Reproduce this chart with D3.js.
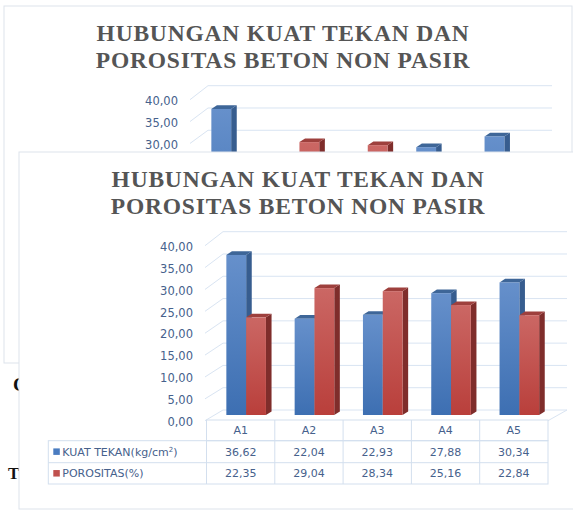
<!DOCTYPE html>
<html>
<head>
<meta charset="utf-8">
<script src="https://cdn.jsdelivr.net/npm/d3@7"></script>
<style>
  body { margin: 0; background: #fff; }
  svg { display: block; }
</style>
</head>
<body>
<script>
// chart data
const categories = ["A1", "A2", "A3", "A4", "A5"];
const kuatTekan = [36.62, 22.04, 22.93, 27.88, 30.34];
const porositas = [22.35, 29.04, 28.34, 25.16, 22.84];
const seriesNames = ["KUAT TEKAN(kg/cm", "POROSITAS(%)"];
const yTicks = [0, 5, 10, 15, 20, 25, 30, 35, 40];
const titleLines = ["HUBUNGAN KUAT TEKAN DAN", "POROSITAS BETON NON PASIR"];

const fmt = v => d3.format(".2f")(v).replace(".", ",");

const svg = d3.select("body").append("svg")
    .attr("width", 573)
    .attr("height", 511);

// gradients for the 3d bars
const defs = svg.append("defs");
function addGrad(id, top, bottom) {
    const gr = defs.append("linearGradient").attr("id", id)
        .attr("x1", 0).attr("y1", 0).attr("x2", 0).attr("y2", 1);
    gr.append("stop").attr("offset", "0%").attr("stop-color", top);
    gr.append("stop").attr("offset", "100%").attr("stop-color", bottom);
}
addGrad("gBlue", "#6690cb", "#3d6fb2");
addGrad("gRed", "#cb6764", "#b93f3b");

const colors = [
    {front: "url(#gBlue)", side: "#375d8f", top: "#3e6698", key: "#4a7cc0"},
    {front: "url(#gRed)", side: "#7f2d2b", top: "#9e403d", key: "#c0504d"}
];

// stray document text behind the charts
svg.append("text").attr("x", 13).attr("y", 391)
    .style("font", "bold 19px 'Liberation Serif'").attr("fill", "#111").text("C");
svg.append("text").attr("x", 8).attr("y", 479)
    .style("font", "bold 17px 'Liberation Serif'").attr("fill", "#111").text("T");
svg.append("text").attr("x", 296).attr("y", 523).attr("text-anchor", "middle")
    .style("font", "bold 17px 'Liberation Serif'").attr("fill", "#333").text("GAMBAR 4.1");

/**
 * drawChart
 * Draws the whole 3d column chart with its data table inside group g.
 */
function drawChart(g) {
    const frameW = 568, frameH = 357;

    g.append("rect")
        .attr("width", frameW).attr("height", frameH)
        .attr("fill", "#fff")
        .attr("stroke", "#dde3eb");

    g.selectAll(".title").data(titleLines).enter()
        .append("text")
        .attr("x", 279)
        .attr("y", (d, i) => 34.7 + i * 27.3)
        .attr("text-anchor", "middle")
        .attr("fill", "#555")
        .style("font", "bold 23.5px 'Liberation Serif'")
        .style("letter-spacing", "0.8px")
        .text(d => d);

    // scales: label plane, back wall, bar front plane
    const yLab = d3.scaleLinear().domain([0, 40]).range([269.7, 94.7]);
    const yBack = d3.scaleLinear().domain([0, 40]).range([258, 79.7]);
    const yBar = d3.scaleLinear().domain([0, 40]).range([263, 88.2]);
    const x = d3.scaleBand().domain(categories).range([187.5, 529]);

    const gridCol = "#d9e4f2";
    // side wall and back wall gridlines
    g.selectAll(".diag").data(yTicks).enter()
        .append("line")
        .attr("x1", 186).attr("y1", d => yLab(d) - 1)
        .attr("x2", 204).attr("y2", d => yBack(d))
        .attr("stroke", gridCol);
    g.selectAll(".grid").data(yTicks).enter()
        .append("line")
        .attr("x1", 204).attr("y1", d => yBack(d))
        .attr("x2", 548).attr("y2", d => yBack(d))
        .attr("stroke", gridCol);
    // floor right edge
    g.append("line")
        .attr("x1", x.range()[1]).attr("y1", yLab(0) - 1)
        .attr("x2", 548).attr("y2", yBack(0))
        .attr("stroke", gridCol);

    // value labels
    const axis = g.append("g")
        .attr("transform", "translate(174,0)")
        .call(d3.axisLeft(yLab).tickValues(yTicks).tickFormat(fmt).tickSize(0).tickPadding(0));
    axis.select(".domain").remove();
    axis.selectAll("text")
        .attr("fill", "#46618c")
        .style("font", "11.5px 'DejaVu Sans'");

    // bars
    const bw = 19.8, dx = 5.6, dy = 3.6;
    const series = [kuatTekan, porositas];
    const y0 = yBar(0);
    categories.forEach((c, i) => {
        series.forEach((vals, s) => {
            const v = vals[i];
            const x0 = x(c) + x.bandwidth() / 2 + 5.5 - bw + s * bw;
            const yv = yBar(v);
            const col = colors[s];
            g.append("polygon")
                .attr("points", [[x0 + bw, yv], [x0 + bw + dx, yv - dy], [x0 + bw + dx, y0 - dy], [x0 + bw, y0]].join(" "))
                .attr("fill", col.side);
            g.append("polygon")
                .attr("points", [[x0, yv], [x0 + dx, yv - dy], [x0 + bw + dx, yv - dy], [x0 + bw, yv]].join(" "))
                .attr("fill", col.top);
            g.append("rect")
                .attr("x", x0).attr("y", yv)
                .attr("width", bw).attr("height", y0 - yv)
                .attr("fill", col.front);
        });
    });

    // data table
    const tCol = "#d3dfee";
    const rowY = [268, 288.7, 310.7, 332];
    const legendX = 29.3;
    const t = g.append("g");
    t.append("rect")
        .attr("x", x.range()[0]).attr("y", rowY[0])
        .attr("width", x.range()[1] - x.range()[0]).attr("height", rowY[1] - rowY[0])
        .attr("fill", "none").attr("stroke", tCol);
    t.append("rect")
        .attr("x", legendX).attr("y", rowY[1])
        .attr("width", x.range()[1] - legendX).attr("height", rowY[3] - rowY[1])
        .attr("fill", "none").attr("stroke", tCol);
    t.append("line")
        .attr("x1", legendX).attr("x2", x.range()[1])
        .attr("y1", rowY[2]).attr("y2", rowY[2])
        .attr("stroke", tCol);
    t.selectAll(".vline").data(categories).enter()
        .append("line")
        .attr("x1", d => x(d)).attr("x2", d => x(d))
        .attr("y1", rowY[0]).attr("y2", rowY[3])
        .attr("stroke", tCol);

    const txtStyle = "11px 'DejaVu Sans'";
    t.selectAll(".cat").data(categories).enter()
        .append("text")
        .attr("x", d => x(d) + x.bandwidth() / 2)
        .attr("y", (rowY[0] + rowY[1]) / 2 + 4)
        .attr("text-anchor", "middle")
        .attr("fill", "#46618c")
        .style("font", txtStyle)
        .text(d => d);

    series.forEach((vals, s) => {
        const cy = (rowY[s + 1] + rowY[s + 2]) / 2;
        t.selectAll(".val" + s).data(vals).enter()
            .append("text")
            .attr("x", (d, i) => x(categories[i]) + x.bandwidth() / 2)
            .attr("y", cy + 4)
            .attr("text-anchor", "middle")
            .attr("fill", "#46618c")
            .style("font", txtStyle)
            .text(d => fmt(d));
        t.append("rect")
            .attr("x", legendX + 5).attr("y", cy - 3.3)
            .attr("width", 6.5).attr("height", 6.5)
            .attr("fill", colors[s].key);
        const lt = t.append("text")
            .attr("x", legendX + 14).attr("y", cy + 4)
            .attr("fill", "#46618c")
            .style("font", txtStyle)
            .text(seriesNames[s]);
        if (s === 0) {
            lt.append("tspan").attr("dy", -4).style("font-size", "7px").text("2");
            lt.append("tspan").attr("dy", 4).text(")");
        }
    });
}

// chart behind, mostly covered by the second one
const back = svg.append("g").attr("transform", "translate(4,6)");
drawChart(back);
// texts of the back chart that sit fully under the front chart are never seen
back.selectAll("text").each(function () {
    const r = this.getBoundingClientRect();
    if (r.top > 148) d3.select(this).remove();
});

drawChart(svg.append("g").attr("transform", "translate(19,152)"));
</script>
</body>
</html>
